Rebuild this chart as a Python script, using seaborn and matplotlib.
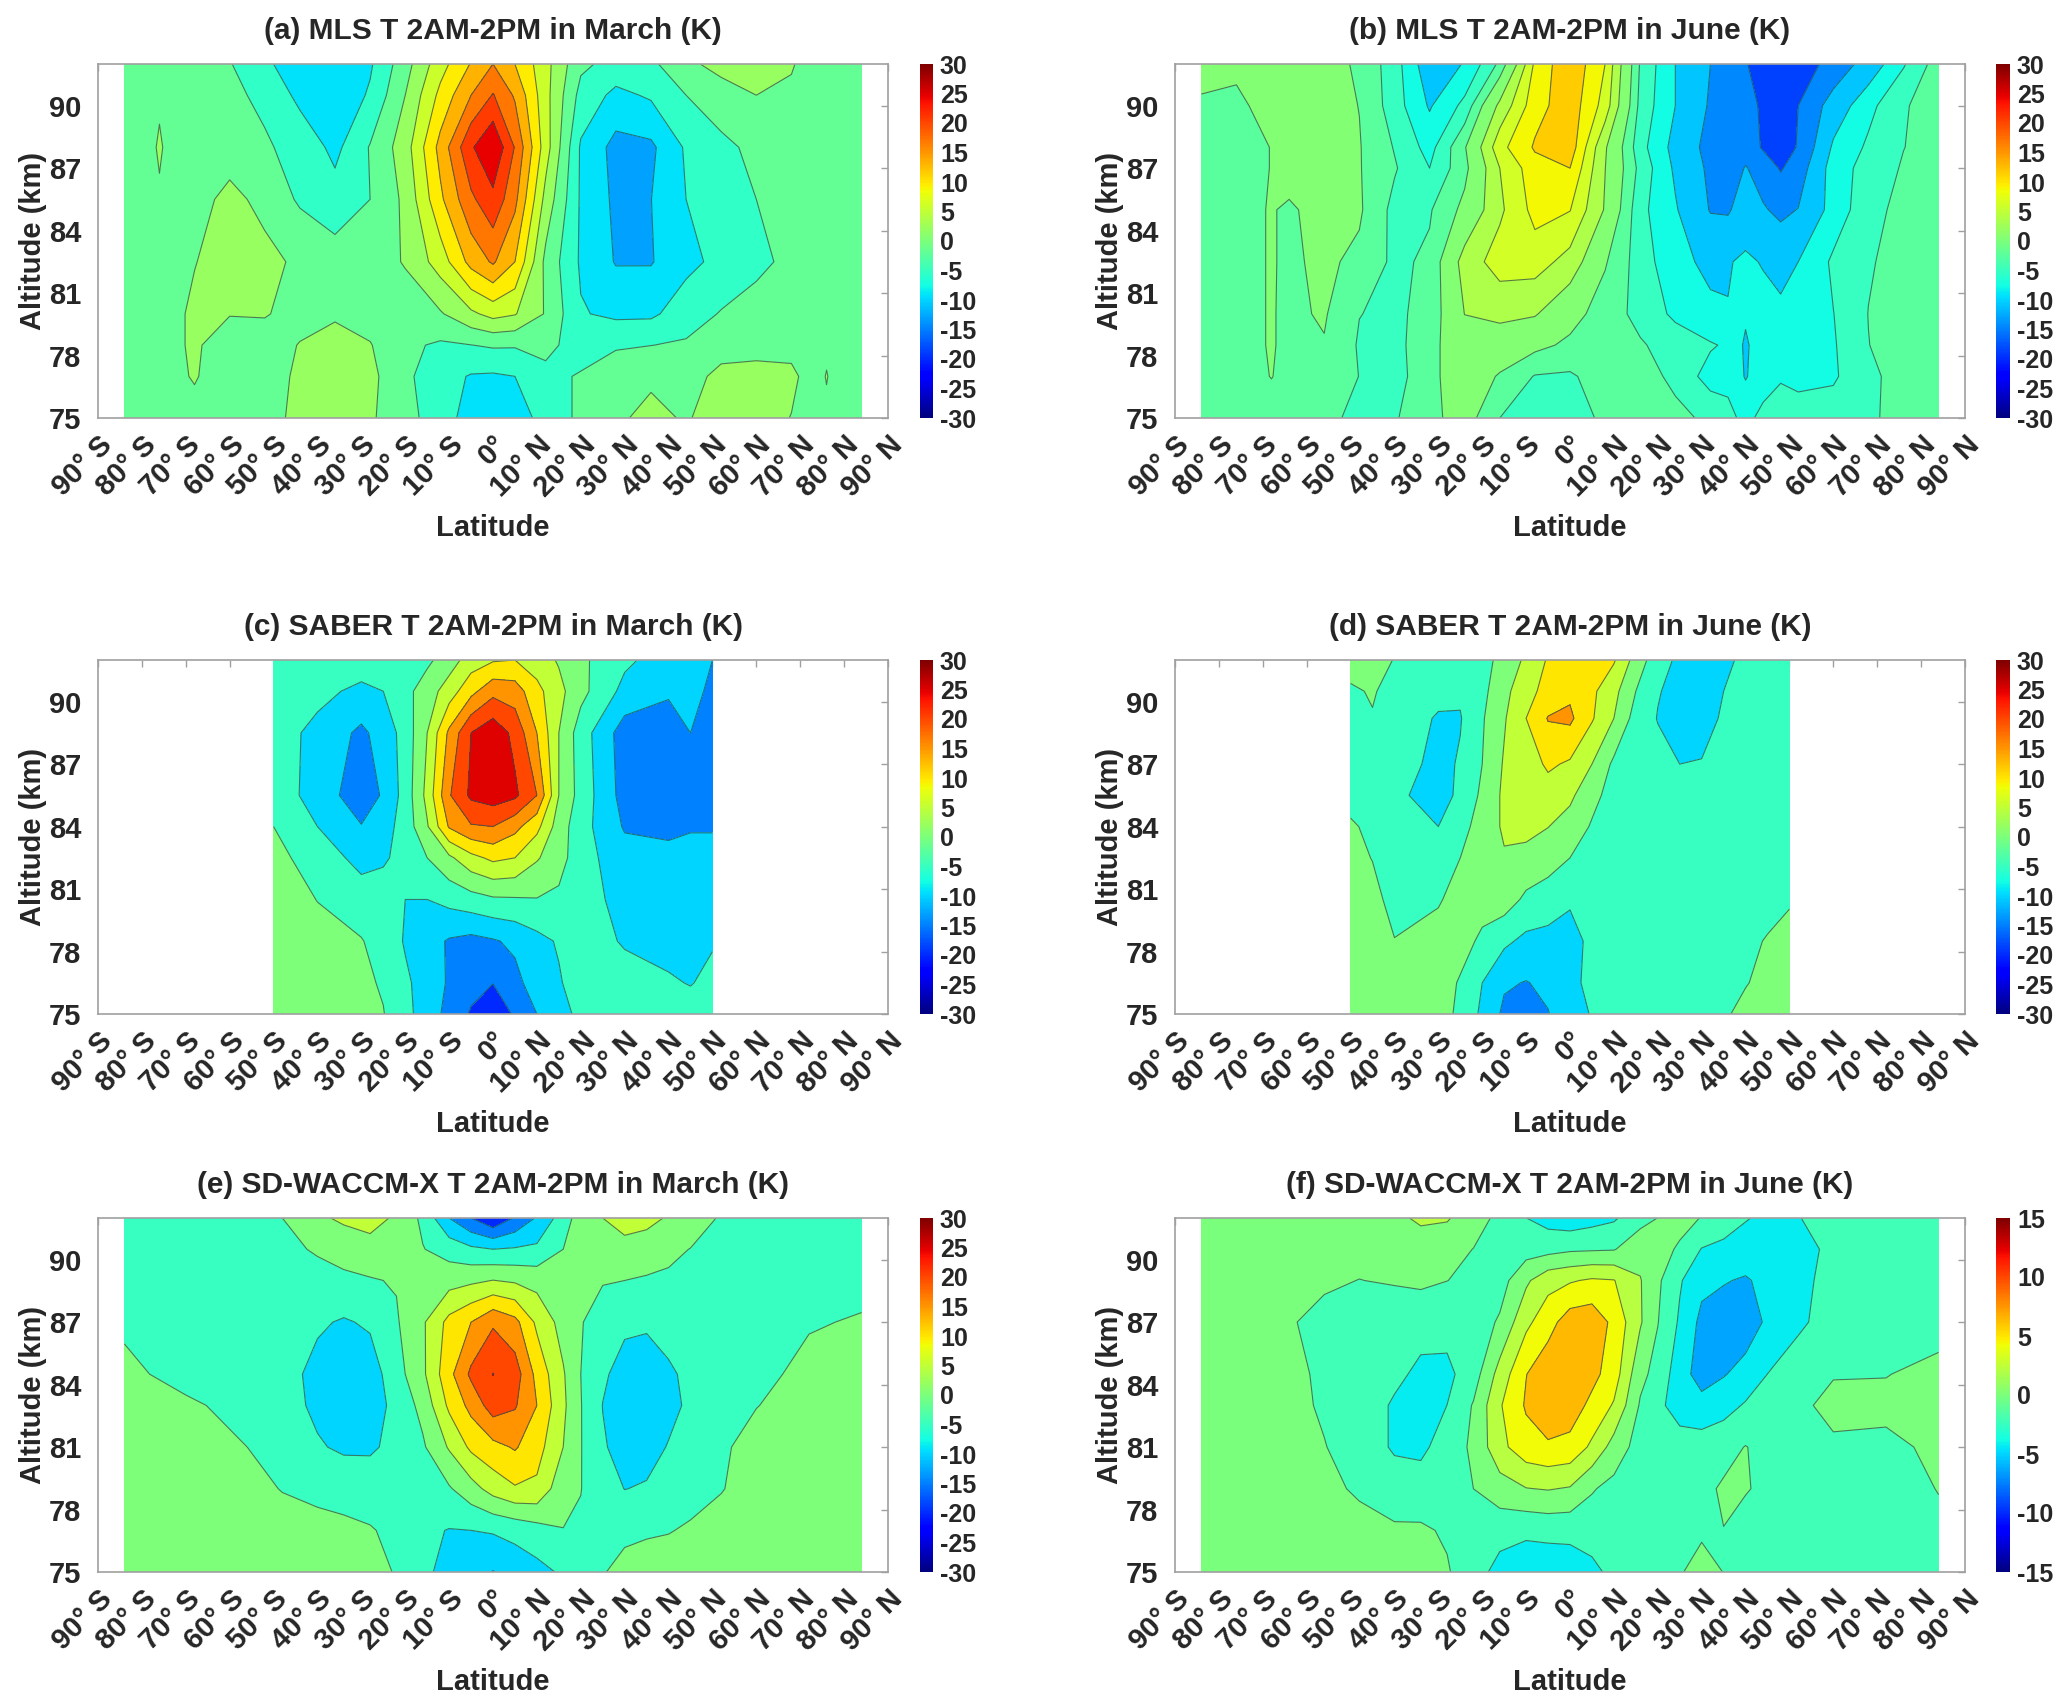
import numpy as np
import matplotlib
matplotlib.use("Agg")
import matplotlib.pyplot as plt
from matplotlib.cm import ScalarMappable
from matplotlib.colors import Normalize
from matplotlib.transforms import ScaledTranslation
import seaborn as sns

sns.set_theme(style="white")
plt.rcParams['font.family'] = ['Liberation Sans', 'DejaVu Sans']
plt.rcParams['axes.unicode_minus'] = False

# x tick labels
lat_ticks = [-90, -80, -70, -60, -50, -40, -30, -20, -10, 0, 10, 20, 30, 40, 50, 60, 70, 80, 90]
lat_labels = ['90° S', '80° S', '70° S', '60° S', '50° S', '40° S', '30° S', '20° S', '10° S', '0°',
              '10° N', '20° N', '30° N', '40° N', '50° N', '60° N', '70° N', '80° N', '90° N']
alt_ticks = [75, 78, 81, 84, 87, 90]

# (a) MLS March, rows go from the lowest altitude up
lat_a = [-84, -77.5, -76, -74.5, -68, -60, -52, -44, -36, -28, -20, -12, -5, 0, 5, 12, 20, 28, 36, 44, 52, 60, 68, 72, 74.5, 76, 77.5, 84]
alt_a = [75, 77, 78.5, 80, 82.5, 85.5, 88, 90.5, 92]
mls_march = [
    [-2, -2, -2, -2, -2, -2, -1, 0.7, 1.5, 0.5, -2.4, -5.8, -9, -10, -9.5, -6, -3, -0.5, 0.8, -0.3, 1.5, 1.5, -0.1, -2, -2, -2, -2, -2],
    [-2, -2, -2, -2, 0.5, -3.7, -2, 0.8, 3, 1, -3, -6, -7.8, -8, -7.5, -4.5, -3.5, -2.5, -0.5, -1.5, 1, 1, 0.7, -1, -2, 0.5, -2, -2],
    [-2, -2, -2, -2, 1, -3.7, -2, 0.2, 2, 0.2, -3, -4.3, -3.8, -3.3, -3.4, -3, -5, -4, -3.8, -3.3, -1.5, -1, -1, -2, -2, -2, -2, -2],
    [-2, -2, -2, -2, 1, 0.3, 0.3, -1.5, -0.7, -1.5, -2, -0.4, 3, 5, 4, -0.3, -7.2, -8.3, -8.2, -5.5, -3.5, -2.5, -2, -2, -2, -2, -2, -2],
    [-2, -2, -2, -2, -0.2, 2.5, 1.5, -1, -2, -2, 0.3, 5.5, 12.5, 15.5, 11.25, -1, -8, -11.5, -11.5, -8.5, -6.5, -4.5, -3, -2, -2, -2, -2, -2],
    [-2, -2, -2, -2, -2, 1.5, -1.5, -4.2, -6, -3.75, 0.8, 10.5, 18, 21.5, 16, 2.5, -8, -12, -11.3, -7.5, -5, -3.75, -2.5, -2, -2, -2, -2, -2],
    [-2, -2, 2, -2, -2.5, -2.5, -3.3, -5, -8.5, -3.5, 2, 12.5, 22, 26, 18.5, 5.5, -8, -12.5, -12, -7, -4.5, -3, -2, -2, -2, -2, -2, -2],
    [-2.5, -2.5, -2.5, -2.5, -2.5, -3, -4.5, -8.5, -10.5, -7, 0, 8.5, 15, 19, 14.5, 5, -5, -8.5, -7, -3.75, -2, 0, -1, -2, -2, -2, -2, -2],
    [-2.5, -2.5, -2.5, -2.5, -2.5, -3.5, -7, -9, -10, -8, -1.5, 6, 11.5, 15, 11.25, 5, -3, -5, -4.5, -1, 1.5, 2.5, 0.5, -2, -2, -2, -2, -2],
]

# (b) MLS June
lat_b = [-84, -76, -68, -64, -56, -48, -40, -32, -24, -16, -8, 0, 8, 16, 24, 32, 36, 40, 44, 48, 52, 60, 68, 76, 84]
alt_b = [75, 77, 78.5, 80, 82.5, 85, 87, 88, 90, 92]
mls_june = [
    [-2.2, -2.2, -2, -2, -3, -4.5, -4, -2, 0, -3.75, -4.8, -5.5, -3, -2.5, -2.8, -4.5, -5.5, -7, -5.5, -5, -5, -5, -4.2, -2.8, -2.5],
    [-2, -2, -1.2, -1.8, -1.8, -3.8, -4.8, -2, 0.5, -1.5, -3.9, -4.1, -2.5, -2.2, -4.6, -7.2, -7, -9.2, -7.5, -6.5, -7, -6.6, -4.3, -2.8, -2.5],
    [-2, -2, -1.1, -1.7, -1.4, -4, -4.6, -2, 0.5, 0.5, -0.5, -1.8, -2.5, -3.5, -4.8, -6, -6.6, -9.5, -7, -7.5, -7.5, -6.5, -3.8, -2.5, -2.5],
    [-2, -2, -1.1, -1.7, -1, -3.7, -4.2, -3, 2.3, 3, 2.5, -0.2, -2.5, -4.5, -6.8, -8.3, -8.9, -8.5, -8, -8.2, -8, -6.3, -3.7, -2.7, -2.5],
    [-2, -2, -1.1, -1.6, -0.8, -1.8, -4.3, -3.3, 3.5, 6.2, 6.2, 4, -1, -5, -8, -9.8, -9.2, -8.5, -9.2, -10.3, -9, -5.8, -4, -2.8, -2.7],
    [-2, -2, -1.1, -1.6, -0.3, -0.9, -4.5, -4, -0.5, 4.5, 8.3, 7.6, 2, -5.5, -8.7, -12.8, -13, -10.8, -12.3, -13.3, -12.5, -7.8, -4.6, -3, -2.7],
    [-2, -2, -1.2, -0.2, 0, -1.1, -3.5, -6.25, -2, 5, 9, 10, 2.3, -4.5, -9.5, -13.3, -14.5, -12.4, -14, -16.5, -14.5, -7.5, -5.3, -3.5, -2.7],
    [-2, -2, -1.2, -0.2, 0.1, -1.1, -3.9, -7.2, -1.5, 6.7, 10.3, 11.5, 2.6, -5.3, -10, -13.8, -15, -14, -16.6, -17.5, -16, -8.5, -5.8, -3.8, -2.7],
    [-1.5, -1.5, -0.8, -0.5, -0.2, -1.3, -5, -9.3, -5.5, 3, 9, 11.5, 6.5, -4.5, -9, -13, -14.5, -15.5, -16.5, -17, -16.2, -11, -7, -4, -2.5],
    [-0.6, -1, 0, 0, 0.2, -1.8, -5, -11, -8.8, -3.2, 8, 12, 7.5, -4, -9, -12.6, -14, -16, -17.5, -18, -18, -15, -11, -6.5, -2.5],
]

# (c) SABER March
lat_c = [-50, -40, -30, -25, -20, -15, -10, -5, 0, 5, 10, 15, 20, 30, 40, 45, 50]
alt_c = [75, 76.5, 78.5, 80.5, 82.5, 84, 85.5, 88.5, 90.5, 92]
saber_march = [
    [-1, -1, -1, -2.3, -6, -10, -14, -18, -20, -17, -12.5, -9, -6.5, -5, -5, -5, -5],
    [-0.5, -0.7, -1.5, -3, -6.5, -10, -13, -16, -17.4, -14, -10, -8, -5, -5.5, -6.8, -7.8, -6],
    [-0.5, -1, -2.3, -4, -8, -10.5, -13, -14, -13, -11.5, -9, -7, -5, -8, -9.5, -9.5, -8],
    [0, -2.6, -4.5, -4, -7.5, -7.5, -6, -4.5, -3.2, -3, -2.7, -3.5, -5, -9.5, -10.5, -10, -10],
    [-1.5, -4, -9.5, -8.5, -5, -2.5, 1.5, 6, 8.6, 7.5, 3, -0.5, -5.5, -10.5, -11.5, -10.5, -10.5],
    [-2.5, -7.5, -12.3, -9.5, -5.5, 2, 13, 17, 17.5, 14, 9, 0, -5.5, -13, -13.3, -13, -13],
    [-4, -10, -15, -12, -5.5, 4, 17, 23.5, 25, 23.5, 17.5, 2.5, -4.5, -14.5, -15, -15, -15],
    [-5, -9, -13.5, -10.5, -5.5, 2.5, 13.5, 22.5, 26, 21, 12.5, 2.5, -5, -15, -14.5, -12.5, -13.5],
    [-5, -6, -8.8, -7.5, -4, 0, 5, 11, 16, 15, 9, 4, -1, -9, -12, -11, -13.5],
    [-5, -3, -4.5, -5, -5, -3.5, 0, 5, 7, 7.5, 5, 2, -1.5, -6.5, -10, -10.5, -12.5],
]

# (d) SABER June
lat_d = [-50, -45, -40, -30, -25, -20, -15, -10, -5, 0, 5, 10, 15, 20, 25, 30, 35, 40, 45, 50]
alt_d = [75, 76.5, 78.5, 80.5, 82.5, 84, 85.5, 87, 89.2, 90.5, 92]
saber_june = [
    [-1, -1, -1, -0.5, -3.5, -8.5, -13.5, -14.5, -12.7, -9.5, -7.2, -5, -5, -5, -5, -5, -3, -1.5, -1, -1],
    [-1, -1, -1, 0, -3, -7.5, -11.9, -12.7, -11.5, -9, -6, -5, -5, -5, -5, -5, -4, -2.7, -1.5, -1.2],
    [-1, -1, -2.4, -0.5, -0.5, -3.5, -6.5, -8.7, -9, -9, -6.5, -5, -5, -5, -5, -5, -5, -3.5, -2.2, -1.5],
    [-1, -1.5, -3.6, -3, -0.5, -0.5, 0, -3.5, -5, -7, -6, -5, -5, -5, -5, -5, -5, -5, -4, -2.8],
    [-1.5, -2.6, -4.5, -4.2, -2.5, 0, 2.2, 1, -0.3, -2.5, -4.5, -5, -5, -5, -5, -5, -5, -5, -5, -5],
    [-2.2, -3, -5, -7.5, -5, 0.5, 3, 4, 2.6, 0.5, -3, -5, -5, -5, -5, -5, -5, -5, -5, -5],
    [-3.3, -5.5, -6.5, -9.5, -6.5, -1.5, 3.5, 5.2, 5.3, 3.5, -1, -4.5, -5, -5, -5, -5, -5, -5, -5, -5],
    [-4, -4.5, -5, -9, -7, -2.5, 3, 5, 8.3, 6.8, 2.5, -3.5, -5, -6, -7.5, -7.3, -6, -5, -5, -5],
    [-3.5, -2.7, -4.5, -8, -7.8, -3, 2, 7.5, 12.8, 13.5, 8, 2.5, -4.5, -7.7, -9.5, -9, -7, -5, -5, -5],
    [-3, -2.2, -3.7, -6, -6.8, -3.8, 1, 6, 9, 11.5, 8.5, 4, -2.5, -7.2, -9, -9, -7.5, -5, -5, -5],
    [-1, -1.5, -2.6, -5, -5, -4, -1, 3.5, 8, 10, 11, 8, 0.5, -5.5, -8.5, -9, -8.5, -6.5, -5, -5],
]

# (e), (f) SD-WACCM-X share one grid
lat_e = [-84, -70, -56, -48, -40, -34, -28, -22, -16, -10, -5, 0, 5, 10, 16, 20, 25, 30, 35, 40, 45, 52, 60, 72, 84]
alt_e = [75, 77, 79, 81, 83, 84.5, 87, 89, 90.5, 92]
waccm_march = [
    [0, 0, 0, -0.3, -0.6, -0.8, -1.5, -2.7, -6.5, -9, -10, -12.7, -10.5, -9, -6.8, -4.5, -2.7, -1.5, -1, -0.5, 0, 0, 0, 0, 0],
    [0, 0, 0, -0.5, -1, -1.5, -2.2, -3.5, -6.5, -7.7, -7.5, -7, -6, -4.5, -2.6, -3, -3.3, -3.2, -2.9, -2.7, -2, -1, 0, 0, 0],
    [0, 0, -1, -2.7, -3.7, -4.2, -4.5, -4.5, -5, -3, 0.5, 4.5, 7, 6.5, -1, -2.4, -5, -7.6, -7, -5, -4, -2.7, -0.8, 0, 0],
    [-0.8, -1, -2.5, -4, -7, -8.3, -8.3, -6, -3.2, 3, 8.5, 11, 13, 9.5, 2.5, -2.3, -7, -9.3, -9.5, -7.2, -5, -3, -1.3, 0, 0],
    [-1, -2, -3.5, -5.5, -8.5, -10, -10, -6, -1, 8.5, 14, 20, 18, 12.5, 3.5, -2.3, -7.6, -10, -10.5, -9, -6.5, -4.3, -2.6, -1, -0.8],
    [-1.8, -3.5, -4.5, -5.5, -9, -10, -10, -4.5, 1.5, 11, 18.5, 22.6, 20, 11, 3, -2.5, -6.7, -9.5, -10, -8.5, -6, -4, -3.5, -1.5, -1.2],
    [-3, -4, -4, -4, -6.8, -8, -6.8, -3, 1.8, 9, 12.5, 16.8, 14, 6.5, 0.5, -2.3, -4, -6.5, -6.8, -5, -4, -3.5, -3.5, -2.8, -2.2],
    [-3.5, -3.5, -3.5, -3.5, -3.5, -3.3, -2.8, -2.2, -1, 0.5, 1.5, 2.6, 1.8, 0.8, -1, -1.6, -2.3, -2.5, -3, -3.2, -3.5, -3.5, -3.5, -3.5, -3.5],
    [-3.5, -3.5, -3.5, -3.2, -2.2, -1, 0, -0.5, -2.3, -4.5, -6.5, -7.5, -7, -6.5, -2.5, -1, 0, 0.5, 0, -1.5, -2.6, -3.5, -3.5, -3.5, -3.5],
    [-3.5, -3.5, -3.5, -2.5, 1.5, 3.5, 5, 1.5, -3.5, -12.5, -17.5, -22, -17, -12, -5, 0, 2.5, 5, 4, 2, 0, -3, -3.5, -3.5, -3.5],
]
waccm_june = [
    [0, 0, 0, 0, 0, 0, -0.9, -2.2, -4, -4.5, -4.6, -4.4, -3.8, -2.6, -2, -1.6, -1.2, -0.5, -1.1, -2, -2, -2, -2, -2, -1.8],
    [0, 0, 0, -0.3, -0.8, -0.8, -1.3, -1.7, -2.4, -2.8, -2.6, -2.6, -2.2, -2, -2, -2, -2, -1.3, -1.1, -2, -2, -2, -2, -2, -1.5],
    [0, 0, -0.5, -1.4, -2.1, -2.2, -2.2, -1.07, 0.1, 1, 1.2, 0.9, -0.9, -1.7, -2.2, -2.2, -2, -1.6, -0.8, -0.9, -1.6, -2, -2, -2, -1],
    [0, 0, -1, -1.9, -3.5, -3.7, -2.2, -0.7, 2.6, 4.5, 5, 4.7, 2.8, 0.2, -2, -2.2, -2.2, -2.2, -1.8, -1, -1.7, -2, -1.4, -1.6, -0.6],
    [0, 0, -1.3, -1.9, -3.5, -4.5, -3.2, -0.9, 3, 5.6, 7, 6.5, 4.8, 3, -1.3, -2.7, -4.2, -4.6, -4, -3, -2.3, -1.5, -0.5, -0.5, -0.3],
    [0, 0, -1.4, -1.9, -2.7, -3.7, -3.7, -2.1, 1.9, 5.3, 6.8, 7.2, 6, 4.3, -0.5, -1.8, -4.4, -6.3, -5.5, -4.6, -3.2, -2.1, -1.2, -1.15, -0.4],
    [-0.2, -0.4, -1.6, -1.9, -2.3, -2.4, -2.5, -2.3, -0.8, 2.7, 4.5, 6.5, 6.8, 4.8, 1.3, -1, -3.5, -5.9, -6.5, -6.5, -5, -3.6, -2.3, -2, -2],
    [0, 0, -0.8, -1.1, -0.9, -0.7, -1.05, -1.5, -2, 0.7, 2.5, 3, 3.5, 3.3, 1.2, -0.7, -3, -4.8, -5.2, -5.6, -4.7, -3.8, -2.5, -2, -2],
    [0, 0, 0, -0.5, -0.3, -0.2, -0.5, -1.1, -1.8, -2, -1.8, -1.4, -1.3, -1.2, 0.3, 0.1, -1.5, -3.3, -3.7, -4, -4.3, -4, -2.7, -2, -2],
    [0, 0, 0, 0, 0.5, 1.5, 1.3, -0.3, -1.5, -3.2, -4, -4.5, -4, -3.5, -1.8, -1.05, 0, -1.2, -2.2, -3.1, -3.6, -3.3, -2.3, -2, -2],
]

# contour levels of each panel
levels_a = list(np.arange(-15, 27, 3.75))
levels_b = [-21, -16.2, -12.6, -9, -6.25, -3.75, -1.25, 2.25, 5, 7.5, 10, 13]
levels_5k = list(np.arange(-27.5, 30, 5))
levels_f = list(np.arange(-7.5, 7.6, 15 / 7))

jet = plt.get_cmap('jet')
W, H = 2067, 1705
fig = plt.figure(figsize=(W / 100, H / 100), dpi=100, facecolor='white')
text_col = '#262626'
edge_col = '#a0a0a0'


def panel(left, right, top, bottom, cleft, cright, title, lat, alt, z, levels, vmax):
    ax = fig.add_axes([left / W, 1 - bottom / H, (right - left) / W, (bottom - top) / H])
    norm = Normalize(-vmax, vmax)
    mids = [(a + b) / 2 for a, b in zip(levels[:-1], levels[1:])]
    colors = [jet(norm(m)) for m in mids]
    z = np.array(z)
    ax.contourf(lat, alt, z, levels=levels, colors=colors)
    ax.contour(lat, alt, z, levels=levels, colors='#2f4f4f', linewidths=0.8, alpha=0.75,
               linestyles='solid')
    ax.set_xlim(-90, 90)
    ax.set_ylim(75, 92)
    ax.set_xticks(lat_ticks)
    ax.set_yticks(alt_ticks)
    ax.set_xticklabels(lat_labels, rotation=45, ha='right', rotation_mode='anchor',
                       fontsize=21, fontweight='bold', color=text_col)
    ax.set_yticklabels([str(a) for a in alt_ticks], fontsize=21, fontweight='bold', color=text_col)
    # labels sit a bit to the right of their ticks, as in MATLAB
    shift = ScaledTranslation(21 / 100, 0, fig.dpi_scale_trans)
    for lab in ax.get_xticklabels():
        lab.set_transform(lab.get_transform() + shift)
    ax.tick_params(axis='x', direction='in', top=True, length=5, width=1, color=edge_col, pad=9)
    ax.tick_params(axis='y', direction='in', right=True, length=5, width=1, color=edge_col, pad=12)
    for s in ax.spines.values():
        s.set_color(edge_col)
        s.set_linewidth(1.2)
    ax.set_title(title, fontsize=21.5, fontweight='bold', color=text_col, pad=18)
    ax.set_xlabel('Latitude', fontsize=21, fontweight='bold', color=text_col)
    ax.set_ylabel('Altitude (km)', fontsize=21, fontweight='bold', color=text_col)
    ax.xaxis.set_label_coords(0.5, -0.271)
    ax.yaxis.set_label_coords(-0.064, 0.5)

    cax = fig.add_axes([cleft / W, 1 - bottom / H, (cright - cleft) / W, (bottom - top) / H])
    cb = fig.colorbar(ScalarMappable(norm=norm, cmap=jet), cax=cax)
    cb.set_ticks(np.arange(-vmax, vmax + 1, 5))
    cb.outline.set_visible(False)
    cb.ax.tick_params(length=0, pad=5, labelsize=18, labelcolor=text_col)
    for lab in cb.ax.get_yticklabels():
        lab.set_fontweight('bold')
    return ax


row_tops = [64, 660, 1218]
row_bottoms = [418, 1014, 1572]
cols = [(98, 888, 920, 933), (1175, 1965, 1996, 2010)]

panel(*cols[0][:2], row_tops[0], row_bottoms[0], *cols[0][2:], '(a) MLS T 2AM-2PM in March (K)',
      lat_a, alt_a, mls_march, levels_a, 30)
panel(*cols[1][:2], row_tops[0], row_bottoms[0], *cols[1][2:], '(b) MLS T 2AM-2PM in June (K)',
      lat_b, alt_b, mls_june, levels_b, 30)
panel(*cols[0][:2], row_tops[1], row_bottoms[1], *cols[0][2:], '(c) SABER T 2AM-2PM in March (K)',
      lat_c, alt_c, saber_march, levels_5k, 30)
panel(*cols[1][:2], row_tops[1], row_bottoms[1], *cols[1][2:], '(d) SABER T 2AM-2PM in June (K)',
      lat_d, alt_d, saber_june, levels_5k, 30)
panel(*cols[0][:2], row_tops[2], row_bottoms[2], *cols[0][2:], '(e) SD-WACCM-X T 2AM-2PM in March (K)',
      lat_e, alt_e, waccm_march, levels_5k, 30)
panel(*cols[1][:2], row_tops[2], row_bottoms[2], *cols[1][2:], '(f) SD-WACCM-X T 2AM-2PM in June (K)',
      lat_e, alt_e, waccm_june, levels_f, 15)

fig.savefig('out.png', dpi=100)
